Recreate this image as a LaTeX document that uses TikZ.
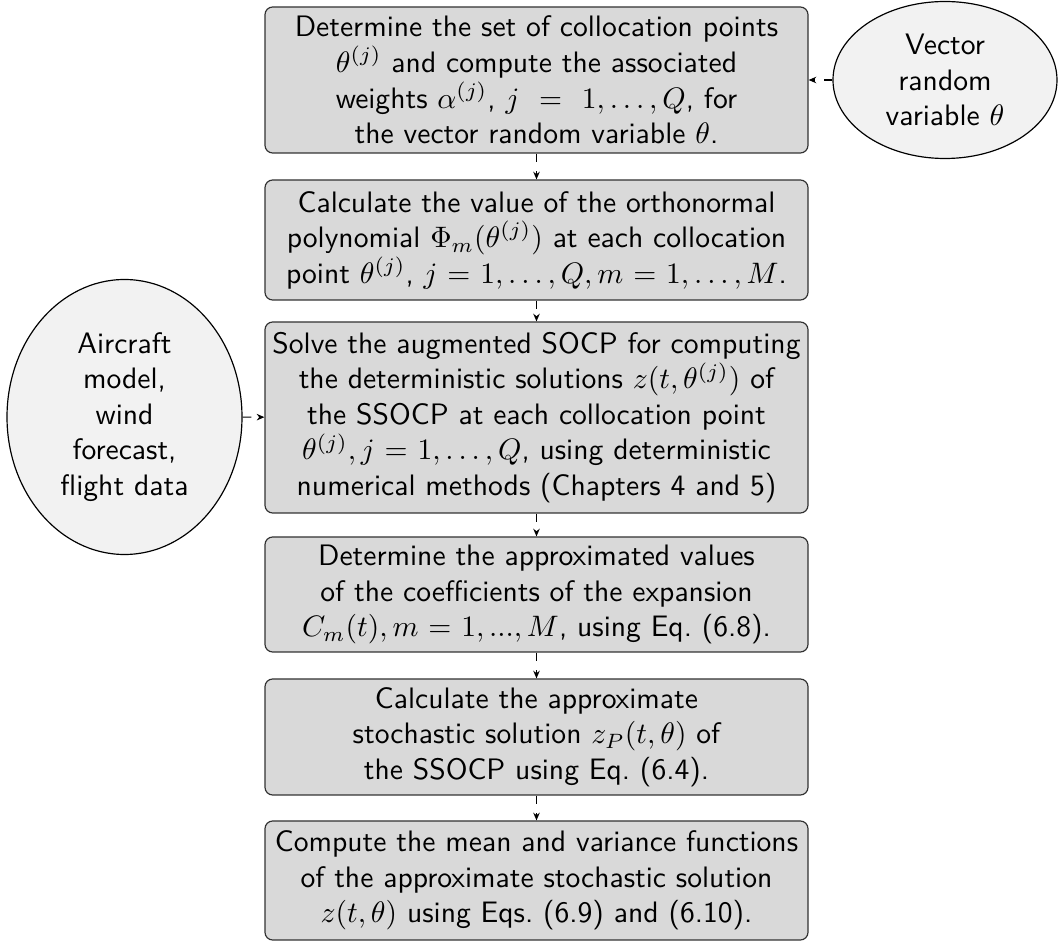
\documentclass[tikz,border=0pt]{standalone}
\usetikzlibrary{arrows.meta,shapes.geometric}
\newdimen\pxu \pxu=0.3378pt
\tikzset{
  stepbox/.style={draw=black!80, fill=gray!30, rounded corners=2.6pt, line width=0.4pt,
    minimum width=543\pxu, align=center, inner sep=0pt,
    font=\sffamily\fontsize{10}{12}\selectfont},
  inbox/.style={draw=black, fill=gray!10, ellipse, line width=0.4pt, inner sep=0pt,
    align=center, font=\sffamily\fontsize{10}{12}\selectfont},
  flow/.style={dashed, line width=0.4pt, -{Stealth[length=2.6pt,width=2.2pt]}}
}
\begin{document}
\begin{tikzpicture}[x=0.3378pt,y=-0.3378pt]
\useasboundingbox (0,0) rectangle (1058,947);
\node[stepbox, minimum height=146\pxu] (b1) at (536.5,80)
  {Determine the set of collocation points\\ $\theta^{(j)}$ and compute the associated\\ weights $\alpha^{(j)}$, $j$\ \ =\ \ $1,\ldots,Q$, for\\ the vector random variable $\theta$.};
\node[stepbox, minimum height=120\pxu] (b2) at (536.5,240)
  {Calculate the value of the orthonormal\\ polynomial $\Phi_m(\theta^{(j)})$ at each collocation\\ point $\theta^{(j)}$, $j$ = $1,\ldots,Q, m$ = $1,\ldots,M$.};
\node[stepbox, minimum height=191\pxu] (b3) at (536.5,417.5)
  {Solve the augmented SOCP for computing\\ the deterministic solutions $z(t,\theta^{(j)})$ of\\ the SSOCP at each collocation point\\ $\theta^{(j)}, j$ = $1,\ldots,Q$, using deterministic\\ numerical methods (Chapters 4 and 5)};
\node[stepbox, minimum height=115\pxu] (b4) at (536.5,594.5)
  {Determine the approximated values\\ of the coefficients of the expansion\\ $C_m(t), m$ = $1,...,M$, using Eq.\ (6.8).};
\node[stepbox, minimum height=116\pxu] (b5) at (536.5,737)
  {Calculate the approximate\\ stochastic solution $z_P(t,\theta)$ of\\ the SSOCP using Eq.\ (6.4).};
\node[stepbox, minimum height=119\pxu] (b6) at (536.5,880.5)
  {Compute the mean and variance functions\\ of the approximate stochastic solution\\ $z(t,\theta)$ using Eqs.\ (6.9) and (6.10).};
\node[inbox, minimum width=224\pxu, minimum height=157\pxu] (vr) at (945,80)
  {Vector\\ random\\ variable $\theta$};
\node[inbox, minimum width=235\pxu, minimum height=275\pxu] (ac) at (124.5,417)
  {Aircraft\\ model,\\ wind\\ forecast,\\ flight data};
\draw[flow] (b1) -- (b2);
\draw[flow] (b2) -- (b3);
\draw[flow] (b3) -- (b4);
\draw[flow] (b4) -- (b5);
\draw[flow] (b5) -- (b6);
\draw[flow] (vr) -- (b1);
\draw[flow] (ac) -- (b3);
\end{tikzpicture}
\end{document}
